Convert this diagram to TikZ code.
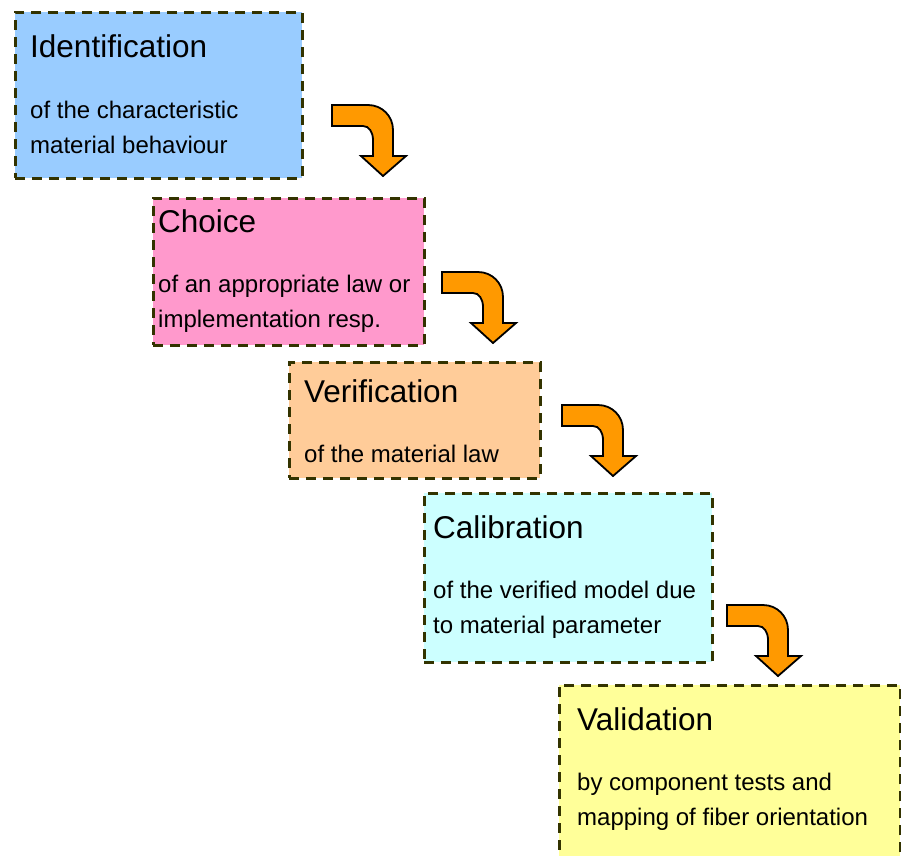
\documentclass[tikz,border=0pt]{standalone}
\usepackage{fontspec}
\setmainfont{Liberation Sans}
\usepackage{xcolor}

\definecolor{idblue}{HTML}{99CCFF}
\definecolor{choicepink}{HTML}{FF99CC}
\definecolor{verorange}{HTML}{FFCC99}
\definecolor{calcyan}{HTML}{CCFFFF}
\definecolor{valyellow}{HTML}{FFFF99}
\definecolor{arrorange}{HTML}{FF9900}
\definecolor{boxline}{HTML}{333300}

\tikzset{
  stagebox/.style={draw=boxline, line width=2.8pt, dash pattern=on 10pt off 7pt,
    rectangle, anchor=north west, inner sep=0pt},
  stagetitle/.style={anchor=base west, inner sep=0pt,
    font=\fontsize{31.5}{38}\selectfont},
  stagetext/.style={anchor=base west, inner sep=0pt, align=left,
    font=\fontsize{24}{34.5}\selectfont},
  bentarrow/.pic={
    \draw[fill=arrorange, line width=1.8pt, line join=miter]
      (0,0) -- (36,0) .. controls (50,0) and (61,11) .. (61,25)
      -- (61,51) -- (74,51) -- (51,71) -- (29,51) -- (41,51) -- (41,35)
      .. controls (41,27) and (37,21) .. (31,21) -- (0,21) -- cycle;
  }
}

\begin{document}
\begin{tikzpicture}[x=1pt,y=-1pt]
        \useasboundingbox (0,0) rectangle (901,855);
        \clip (0,0) rectangle (901,855);

        % stage 1: identification
        \node[stagebox, fill=idblue, minimum width=287pt, minimum height=166pt] (ident) at (14,11) {};
        \node[stagetitle] (identT) at (30,57) {Identification};
        \node[stagetext] (identB) at (30,153) {of the characteristic\\material behaviour};

        % stage 2: choice
        \node[stagebox, fill=choicepink, minimum width=271pt, minimum height=147pt] (choice) at (152,197) {};
        \node[stagetitle] (choiceT) at (158,232) {Choice};
        \node[stagetext] (choiceB) at (158,327) {of an appropriate law or\\implementation resp.};

        % stage 3: verification
        \node[stagebox, fill=verorange, minimum width=251pt, minimum height=116pt] (verif) at (288,361) {};
        \node[stagetitle] (verifT) at (304,402) {Verification};
        \node[stagetext] (verifB) at (304,462) {of the material law};

        % stage 4: calibration
        \node[stagebox, fill=calcyan, minimum width=288pt, minimum height=169pt] (calib) at (423,492) {};
        \node[stagetitle] (calibT) at (433,538) {Calibration};
        \node[stagetext] (calibB) at (433,633) {of the verified model due\\to material parameter};

        % stage 5: validation (runs off the bottom)
        \node[stagebox, fill=valyellow, minimum width=341pt, minimum height=200pt] (valid) at (558,684) {};
        \node[stagetitle] (validT) at (577,730) {Validation};
        \node[stagetext] (validB) at (577,825) {by component tests and\\mapping of fiber orientation};

        % bent arrows between the stages
        \coordinate (arrA) at (332,105);
        \coordinate (arrB) at (442,272);
        \coordinate (arrC) at (562,405);
        \coordinate (arrD) at (727,605);
        \foreach \a in {arrA,arrB,arrC,arrD}
            \pic at (\a) {bentarrow};
    \end{tikzpicture}
\end{document}
